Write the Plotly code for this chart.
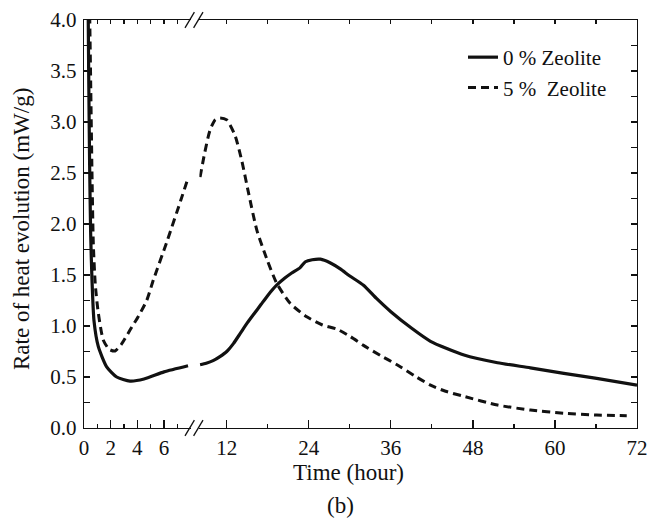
import plotly.graph_objects as go

# ---------------- data ----------------
hours_0 = [0.30, 0.35, 0.42, 0.50, 0.60, 0.75, 1.07, 1.7, 2.45, 3.45, 4.5, 6.0, 7.8,
           8.1, 9.0, 10.0, 11.0, 12.0, 13.0, 14.0, 15.0, 16.0, 17.0, 18.0, 19.3, 20.5,
           21.5, 22.7, 23.5, 24.5, 25.7, 27.1, 28.6, 30.0, 32.0, 33.9, 36.0, 39.0, 41.8,
           46.7, 51.6, 56.4, 61.3, 66.1, 72.0]
rate_0 = [4.3, 3.5, 2.6, 1.9, 1.45, 1.05, 0.80, 0.60, 0.50, 0.46, 0.48, 0.55, 0.61,
          0.62, 0.635, 0.66, 0.70, 0.75, 0.83, 0.93, 1.03, 1.12, 1.21, 1.30, 1.40, 1.47,
          1.52, 1.57, 1.63, 1.65, 1.655, 1.62, 1.56, 1.49, 1.40, 1.27, 1.14, 0.98, 0.85,
          0.715, 0.64, 0.59, 0.535, 0.487, 0.42]

hours_5 = [0.40, 0.50, 0.60, 0.70, 0.85, 1.07, 1.45, 1.9, 2.33, 2.8, 3.45, 4.1, 4.7, 5.2,
           6.25, 7.25, 7.8,
           8.1, 8.75, 9.55, 10.3, 11.0, 12.0, 13.2, 14.2, 15.2, 16.4, 17.9, 19.3, 21.3,
           23.7, 26.0, 28.1, 30.0, 32.0, 34.5, 36.9, 39.5, 41.8, 44.0, 46.7, 51.6, 56.4,
           61.3, 66.1, 70.5]
rate_5 = [4.3, 3.4, 2.5, 1.8, 1.4, 1.13, 0.86, 0.77, 0.755, 0.82, 0.96, 1.10, 1.25, 1.45,
          1.84, 2.23, 2.45,
          2.46, 2.69, 2.92, 3.02, 3.04, 3.02, 2.87, 2.62, 2.30, 1.94, 1.65, 1.42, 1.22,
          1.09, 1.01, 0.97, 0.90, 0.81, 0.71, 0.62, 0.51, 0.42, 0.36, 0.31, 0.225, 0.176,
          0.144, 0.127, 0.12]

series_names = ["0 % Zeolite", "5 %\u00a0 Zeolite"]
break_hour = 8
left_ticks = [0, 2, 4, 6]
left_minor = [1, 3, 5, 7]
right_ticks = [12, 24, 36, 48, 60, 72]
right_minor = [18, 30, 42, 54, 66]
y_ticks = [0.0, 0.5, 1.0, 1.5, 2.0, 2.5, 3.0, 3.5, 4.0]
y_labels = ["0.0", "0.5", "1.0", "1.5", "2.0", "2.5", "3.0", "3.5", "4.0"]

FONT = "Liberation Serif"
INK = "#111111"

fig = go.Figure()

def split(h, r):
    left = [(a, b) for a, b in zip(h, r) if a < break_hour]
    right = [(a, b) for a, b in zip(h, r) if a >= break_hour]
    return ([p[0] for p in left], [p[1] for p in left],
            [p[0] for p in right], [p[1] for p in right])

styles = [dict(color=INK, width=3.2, dash="solid"),
          dict(color=INK, width=3.0, dash="8px,5px")]

for name, h, r, st in zip(series_names, [hours_0, hours_5], [rate_0, rate_5], styles):
    hl, rl, hr, rr = split(h, r)
    fig.add_trace(go.Scatter(x=hl, y=rl, xaxis="x", yaxis="y", mode="lines",
                             line=dict(shape="spline", smoothing=0.6, **st),
                             name=name, legendgroup=name, showlegend=False,
                             hoverinfo="skip"))
    fig.add_trace(go.Scatter(x=hr, y=rr, xaxis="x2", yaxis="y", mode="lines",
                             line=dict(shape="spline", smoothing=0.6, **st),
                             name=name, legendgroup=name, showlegend=True,
                             hoverinfo="skip"))

L, R, T, B = 84, 22, 20, 102
W, H = 659, 530
pw = W - L - R
ph = H - T - B
left_end = (190.7 - L) / pw
right_start = (199.4 - L) / pw

TICKFONT = dict(family=FONT, size=21, color=INK)
axis_common = dict(showgrid=False, zeroline=False, showline=True, linecolor=INK,
                   linewidth=1.3, ticks="inside", tickcolor=INK, tickwidth=1.2,
                   tickfont=TICKFONT, automargin=False)

fig.update_layout(
    template="none",
    width=W, height=H,
    margin=dict(l=L, r=R, t=T, b=B, autoexpand=False),
    paper_bgcolor="white", plot_bgcolor="white",
    font=dict(family=FONT, color=INK, size=21),
    xaxis=dict(domain=[0, left_end], range=[0, break_hour], anchor="y",
               tickvals=left_ticks, ticklen=8,
               minor=dict(tickvals=left_minor, ticklen=4, ticks="inside",
                          tickcolor=INK, tickwidth=1.2),
               **axis_common),
    xaxis2=dict(domain=[right_start, 1], range=[break_hour, 72], anchor="y",
                tickvals=right_ticks, ticklen=8,
                minor=dict(tickvals=right_minor, ticklen=4, ticks="inside",
                           tickcolor=INK, tickwidth=1.2),
                **axis_common),
    xaxis3=dict(overlaying="x", side="top", anchor="y", range=[0, break_hour],
                dtick=1, tick0=0, ticklen=4, showticklabels=False, **axis_common),
    xaxis4=dict(overlaying="x2", side="top", anchor="y", range=[break_hour, 72],
                dtick=6, tick0=0, ticklen=4, showticklabels=False, **axis_common),
    yaxis=dict(domain=[0, 1], range=[0, 4], anchor="x", side="left",
               tickvals=y_ticks, ticktext=y_labels, ticklen=6, ticklabelstandoff=2,
               minor=dict(dtick=0.25, tick0=0, ticklen=6, ticks="inside",
                          tickcolor=INK, tickwidth=1.2),
               **axis_common),
    yaxis2=dict(overlaying="y", range=[0, 4], anchor="x2", side="right",
                dtick=0.25, tick0=0, ticklen=6, showticklabels=False,
                **axis_common),
    legend=dict(x=(463 - L) / pw, y=(T + ph - 37) / ph, xanchor="left", yanchor="top",
                bgcolor="rgba(0,0,0,0)", borderwidth=0,
                font=dict(family=FONT, size=21, color=INK),
                itemwidth=30, tracegroupgap=0),
    showlegend=True,
)

# dummy traces so overlay axes render
fig.add_trace(go.Scatter(x=[], y=[], xaxis="x3", yaxis="y", showlegend=False))
fig.add_trace(go.Scatter(x=[], y=[], xaxis="x4", yaxis="y2", showlegend=False))

# axis-break marks (//) at bottom and top
cx = (194 - L) / pw
for yy in (0, 1):
    for off in (-4.3, 4.3):
        fig.add_shape(type="line", xref="paper", yref="paper",
                      xsizemode="pixel", ysizemode="pixel",
                      xanchor=cx, yanchor=yy,
                      x0=off - 4.7, x1=off + 4.7, y0=-7.8, y1=7.8,
                      line=dict(color=INK, width=1.3))

# axis titles and caption
TITLEFONT = dict(family=FONT, size=23, color=INK)
fig.add_annotation(text="Time (hour)", xref="paper", yref="paper",
                   x=(348 - L) / pw, y=-(472 - T - ph) / ph, showarrow=False,
                   xanchor="center", yanchor="middle", font=TITLEFONT)
fig.add_annotation(text="(b)", xref="paper", yref="paper",
                   x=(340 - L) / pw, y=-(505 - T - ph) / ph, showarrow=False,
                   xanchor="center", yanchor="middle", font=TITLEFONT)
fig.add_annotation(text="Rate of heat evolution (mW/g)", xref="paper", yref="paper",
                   x=-(L - 22) / pw, y=(T + ph - 229) / ph, textangle=-90,
                   xanchor="center", yanchor="middle",
                   showarrow=False, font=TITLEFONT)

fig.write_html("out.html",
               config={"displayModeBar": False, "staticPlot": True},
               post_script="document.body.style.margin='0px';"
                           "document.body.style.overflow='hidden';")
